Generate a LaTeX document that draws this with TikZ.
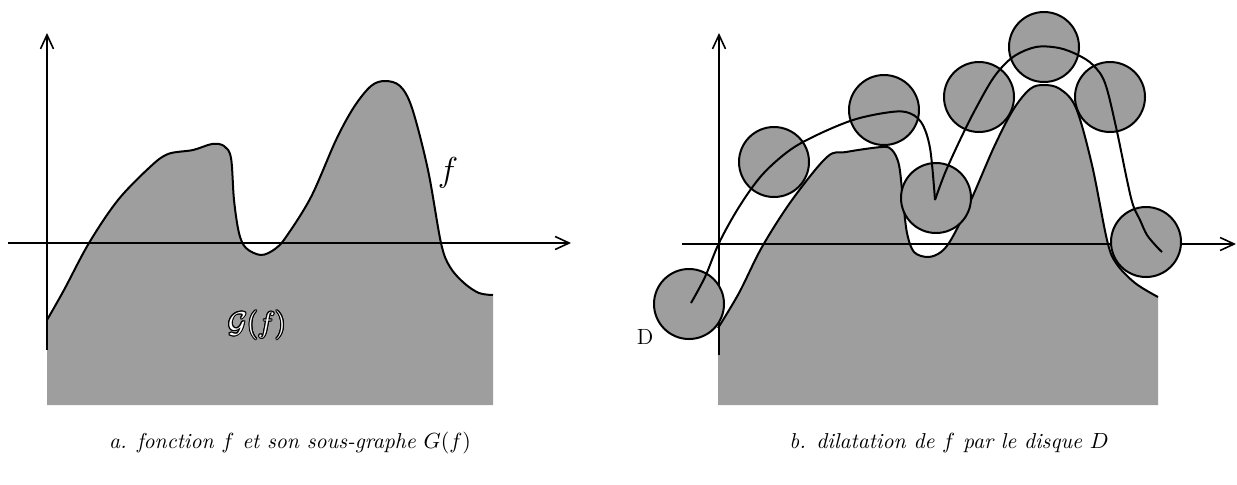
\documentclass[tikz,border=0pt]{standalone}
\usetikzlibrary{arrows.meta}
\definecolor{fillgray}{gray}{0.62}
\begin{document}
\begin{tikzpicture}[x=0.5pt,y=-0.5pt,
  axis/.style={line width=0.7pt,-{Straight Barb[length=7pt,width=6.5pt,line width=0.8pt]}},
  fcurve/.style={line width=1pt},
  dilcurve/.style={line width=1pt},
  disk/.style={circle,draw,line width=1pt,fill=fillgray,minimum size=35pt,inner sep=0pt},
  caption/.style={font=\fontsize{10.8}{13}\selectfont\itshape},
  glabel/.style={font=\fontsize{13.5}{15}\selectfont}]
\useasboundingbox (0,0) rectangle (1237,484);

% ---------- left panel ----------
\fill[fillgray] plot[smooth,tension=0.55] coordinates {(47,320) (64,290) (89,243) (118,200) (150,167) (168,154) (193,150) (212,144) (224,146) (231,158) (234,200) (239,233) (246,248) (261,255) (275,249) (286,237) (311,197) (336,140) (354,107) (371,86) (385,81) (400,86) (412,108) (428,170) (441,243) (450,267) (464,283) (479,293) (493,295)} -- (493,405) -- (47,405) -- cycle;
\draw[fcurve] plot[smooth,tension=0.55] coordinates {(47,320) (64,290) (89,243) (118,200) (150,167) (168,154) (193,150) (212,144) (224,146) (231,158) (234,200) (239,233) (246,248) (261,255) (275,249) (286,237) (311,197) (336,140) (354,107) (371,86) (385,81) (400,86) (412,108) (428,170) (441,243) (450,267) (464,283) (479,293) (493,295)};

\coordinate (lxs) at (8,243);
\coordinate (lxe) at (571,243);
\coordinate (lys) at (47,350);
\coordinate (lye) at (47,33);
\draw[axis] (lxs) -- (lxe);
\draw[axis] (lys) -- (lye);

\node[font=\LARGE] (flab) at (448,173) {$f$};
\foreach \ang in {0,30,...,330}
  \node[glabel,text=black,shift={(\ang:0.55pt)}] (gshadow\ang) at (257,325) {$\mathcal{G}(f)$};
\node[glabel,text=white] (glab) at (257,325) {$\mathcal{G}(f)$};

% ---------- right panel ----------
\fill[fillgray] plot[smooth,tension=0.55] coordinates {(718,328) (739,293) (762,247) (792,200) (827,157) (846,152) (882,147) (892,150) (899,165) (903,200) (907,233) (914,252) (928,257) (941,252) (952,238) (971,200) (994,147) (1013,110) (1030,89) (1044,85) (1060,89) (1076,108) (1092,165) (1107,240) (1116,263) (1135,283) (1158,297)} -- (1158,405) -- (718,405) -- cycle;
\draw[fcurve] plot[smooth,tension=0.55] coordinates {(718,328) (739,293) (762,247) (792,200) (827,157) (846,152) (882,147) (892,150) (899,165) (903,200) (907,233) (914,252) (928,257) (941,252) (952,238) (971,200) (994,147) (1013,110) (1030,89) (1044,85) (1060,89) (1076,108) (1092,165) (1107,240) (1116,263) (1135,283) (1158,297)};

\coordinate (rxs) at (682,244);
\coordinate (rxe) at (1236,244);
\coordinate (rys) at (719,355);
\coordinate (rye) at (719,33);
\draw[axis] (rxs) -- (rxe);
\draw[axis] (rys) -- (rye);

\node[disk] (d1) at (689,304) {};
\node[disk] (d2) at (774,162) {};
\node[disk] (d3) at (884,110) {};
\node[disk] (d4) at (936,198) {};
\node[disk] (d5) at (979,97) {};
\node[disk] (d6) at (1044,47) {};
\node[disk] (d7) at (1110,97) {};
\node[disk] (d8) at (1146,242) {};

\draw[dilcurve] plot[smooth,tension=0.55] coordinates {(691,303) (705,277) (719,243) (739,207) (762,175) (790,150) (819,134) (853,120) (884,113) (906,112) (921,122) (930,148) (935,200)};
\draw[dilcurve] plot[smooth,tension=0.55] coordinates {(935,200) (945,173) (960,140) (975,110) (994,77) (1013,57) (1036,47) (1059,48) (1078,55) (1093,65) (1105,83) (1116,127) (1127,180) (1133,205) (1140,220) (1147,235) (1157,247) (1162,252)};

\node[font=\fontsize{11}{13}\selectfont] (dlab) at (645,337) {D};

% ---------- captions ----------
\node[caption] (capa) at (290,443) {a. fonction $f$ et son sous-graphe $G(f)$};
\node[caption] (capb) at (949,443) {b. dilatation de $f$ par le disque $D$};
\end{tikzpicture}
\end{document}
